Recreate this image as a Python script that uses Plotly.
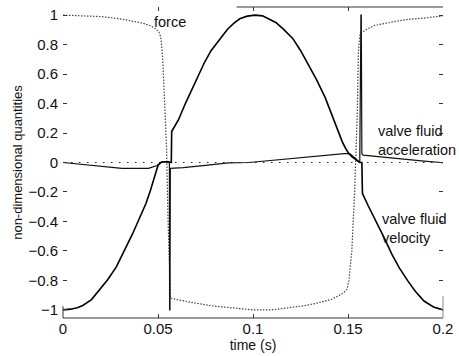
import plotly.graph_objects as go

# ---- data ----
force_t = [0, 0.01, 0.02, 0.03, 0.036, 0.042, 0.046, 0.049, 0.0505, 0.0515, 0.0525,
           0.0535, 0.0545, 0.0553, 0.056, 0.0566, 0.060, 0.065, 0.070, 0.080,
           0.090, 0.100, 0.110, 0.120, 0.128, 0.135, 0.141, 0.145, 0.148, 0.1495,
           0.1505, 0.152, 0.1535, 0.1548, 0.1555, 0.1562, 0.157, 0.160, 0.164,
           0.172, 0.181, 0.190, 0.200]
force_v = [1.0, 0.995, 0.99, 0.975, 0.962, 0.945, 0.928, 0.905, 0.885, 0.85, 0.7,
           0.4, 0.1, -0.4, -0.8, -0.92, -0.93, -0.945, -0.955, -0.975,
           -0.99, -1.0, -1.0, -0.985, -0.97, -0.95, -0.93, -0.905, -0.88, -0.86,
           -0.8, -0.6, -0.2, 0.3, 0.75, 0.86, 0.88, 0.905, 0.93,
           0.95, 0.97, 0.98, 0.995]

vel_t = [0, 0.004, 0.0075, 0.0104, 0.015, 0.0192, 0.0235, 0.028, 0.032, 0.0364,
         0.040, 0.0436, 0.046, 0.0475, 0.0488, 0.050, 0.0515, 0.053, 0.0555,
         0.0570, 0.0572, 0.0608, 0.0644, 0.068, 0.0712, 0.0745, 0.078, 0.082,
         0.0867, 0.090, 0.093, 0.097, 0.101, 0.105, 0.109, 0.112, 0.116, 0.121,
         0.125, 0.129, 0.1335, 0.138, 0.1415, 0.145, 0.147, 0.149, 0.1505,
         0.152, 0.1535, 0.1562, 0.1573, 0.1576, 0.1605, 0.1645, 0.169, 0.173,
         0.177, 0.1813, 0.1855, 0.190, 0.195, 0.200]
vel_v = [-1.0, -0.995, -0.985, -0.97, -0.93, -0.865, -0.795, -0.71, -0.61, -0.49,
         -0.385, -0.28, -0.19, -0.12, -0.06, -0.02, 0.0, 0.005, 0.005,
         0.0, 0.21, 0.29, 0.40, 0.50, 0.59, 0.68, 0.76, 0.83,
         0.906, 0.945, 0.975, 0.993, 1.0, 0.995, 0.97, 0.95, 0.905, 0.84,
         0.76, 0.67, 0.56, 0.44, 0.32, 0.20, 0.14, 0.09, 0.06,
         0.04, 0.025, 0.0, 0.0, -0.21, -0.29, -0.39, -0.51, -0.62,
         -0.715, -0.80, -0.875, -0.94, -0.98, -1.0]

acc_t = [0, 0.01, 0.02, 0.031, 0.045, 0.0495, 0.052, 0.0555, 0.0560, 0.0561,
         0.0563, 0.0565, 0.0633, 0.075, 0.087, 0.098, 0.110, 0.120, 0.132,
         0.140, 0.148, 0.151, 0.1535, 0.1562, 0.1568, 0.1570, 0.1573, 0.158,
         0.170, 0.180, 0.190, 0.199, 0.200]
acc_v = [0.0, -0.012, -0.025, -0.04, -0.04, -0.02, 0.005, 0.005, 0.0, -1.0,
         -1.0, -0.04, -0.035, -0.02, -0.003, 0.0, 0.015, 0.028, 0.04,
         0.05, 0.06, 0.06, 0.03, 0.0, 1.0, 1.0, 0.06, 0.05,
         0.035, 0.02, 0.01, 0.0, -0.003]

zero_t = [0, 0.2]
zero_v = [0, 0]

x_ticks = [0, 0.05, 0.1, 0.15, 0.2]
x_labels = ["0", "0.05", "0.1", "0.15", "0.2"]
y_ticks = [-1, -0.8, -0.6, -0.4, -0.2, 0, 0.2, 0.4, 0.6, 0.8, 1]
y_labels = ["\u22121", "\u22120.8", "\u22120.6", "\u22120.4", "\u22120.2", "0",
            "0.2", "0.4", "0.6", "0.8", "1"]

FONT = "Liberation Sans, Arial, Helvetica, sans-serif"

fig = go.Figure()
fig.add_trace(go.Scatter(x=zero_t, y=zero_v, mode="lines",
                         line=dict(color="#222", width=1.2, dash="1.5px,6.5px"),
                         showlegend=False, hoverinfo="skip"))
fig.add_trace(go.Scatter(x=force_t, y=force_v, mode="lines",
                         line=dict(color="#444", width=1.2, dash="1.5px,1.5px"),
                         showlegend=False))
fig.add_trace(go.Scatter(x=acc_t, y=acc_v, mode="lines",
                         line=dict(color="#111", width=1.2),
                         showlegend=False))
fig.add_trace(go.Scatter(x=vel_t, y=vel_v, mode="lines",
                         line=dict(color="#000", width=1.6),
                         showlegend=False))

ann_font = dict(family=FONT, size=14.5, color="#111")
fig.add_annotation(x=0.0468, y=0.95, text="force", showarrow=False,
                   xanchor="left", yanchor="middle", font=ann_font)
fig.add_annotation(x=0.1645, y=0.15, text="valve fluid<br>acceleration",
                   showarrow=False, xanchor="left", yanchor="middle",
                   align="left", font=ann_font)
fig.add_annotation(x=0.1668, y=-0.451, text="valve fluid<br>velocity",
                   showarrow=False, xanchor="left", yanchor="middle",
                   align="left", font=ann_font)

# partial axis frame, as it appears in the scanned original
line_col = "#333"
fig.add_shape(type="line", xref="paper", yref="paper", x0=0, x1=1, y0=0, y1=0,
              line=dict(color=line_col, width=1))
fig.add_shape(type="line", xref="paper", yref="paper", x0=0, x1=0, y0=0, y1=0.038,
              line=dict(color=line_col, width=1))
fig.add_shape(type="line", xref="paper", yref="paper", x0=1, x1=1, y0=0, y1=0.07,
              line=dict(color="#888", width=1))
fig.add_shape(type="line", xref="paper", yref="paper", x0=0.457, x1=1, y0=1, y1=1,
              line=dict(color=line_col, width=1))

fig.update_layout(
    width=459, height=356,
    margin=dict(l=63, r=11, t=6, b=37),
    paper_bgcolor="white", plot_bgcolor="white",
    font=dict(family=FONT, size=15, color="#111"),
    xaxis=dict(range=[0, 0.2], tickvals=x_ticks, ticktext=x_labels,
               showgrid=False, zeroline=False, showline=False,
               ticks="inside", ticklen=4, tickcolor="#333", mirror="ticks",
               title=dict(text="time (s)", standoff=3,
                          font=dict(family=FONT, size=14)),
               tickfont=dict(family=FONT, size=15)),
    yaxis=dict(range=[-1.055, 1.055], tickvals=y_ticks, ticktext=y_labels,
               showgrid=False, zeroline=False, showline=False,
               ticks="inside", ticklen=4, tickcolor="#333", mirror="ticks",
               ticklabelstandoff=4,
               title=dict(text="non-dimensional quantities", standoff=2,
                          font=dict(family=FONT, size=13)),
               tickfont=dict(family=FONT, size=15)),
)

fig.write_html("out.html")
